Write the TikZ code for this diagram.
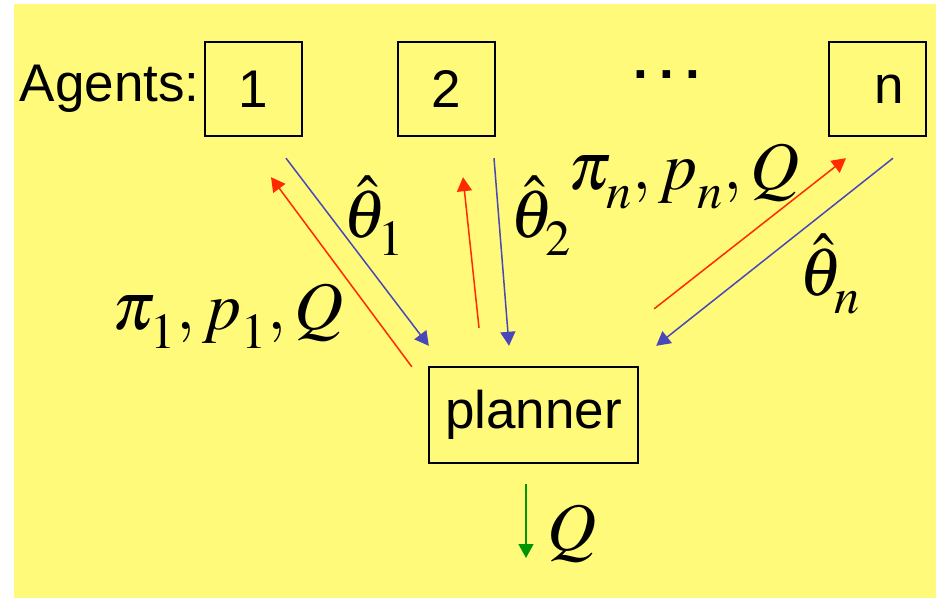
\documentclass[tikz,border=0pt]{standalone}
\usepackage{mathptmx}
\usepackage[no-math]{fontspec}
\setsansfont{Liberation Sans}
\usetikzlibrary{positioning, arrows.meta, calc}
\definecolor{slide}{HTML}{FFFA7A}
\definecolor{uplink}{HTML}{FF2A00}
\definecolor{downlink}{HTML}{4848B8}
\definecolor{outlink}{HTML}{009600}
\newcommand{\lowsub}[1]{\raisebox{-4pt}{$\scriptstyle #1$}}

\begin{document}
\begin{tikzpicture}[x=0.5pt, y=-0.5pt,
    agent/.style={draw, line width=1.2pt, minimum width=48.5pt, minimum height=47pt, inner sep=0pt, font=\sffamily\fontsize{26.5}{30}\selectfont},
    msg/.style={line width=0.75pt, -{Triangle[length=7pt, width=7.5pt]}},
    eq/.style={inner sep=0pt, font=\fontsize{34}{38}\selectfont}]
    \useasboundingbox (0,0) rectangle (936,598);
    \fill[white] (0,0) rectangle (936,598);
    \fill[slide] (14,4) rectangle (936,598);

    % agents and planner
    \node[font=\sffamily\fontsize{26.5}{30}\selectfont, anchor=east, inner sep=0pt] (lbl) at (200,89) {Agents:};
    \node[agent] (a1) at (253.5,89) {1};
    \node[agent] (a2) at (446.5,89) {2};
    \node[font=\sffamily\bfseries\fontsize{26.5}{30}\selectfont, inner sep=0pt] (dots) at (667,75) {.\hspace{5.5pt}.\hspace{5.5pt}.};
    \node[agent, text width=26.5pt, inner xsep=11pt, align=right] (an) at (877.5,89) {n};
    \node[agent, minimum width=104.5pt, minimum height=48pt] (pl) at (533.5,415) {planner};
    \coordinate (qout) at (526,558);

    % reports (blue) and answers (red)
    \draw[msg, downlink] ($(a1.south)+(32.5,21)$) -- ($(pl.north west)+(1,-20)$);
    \draw[msg, uplink] ($(pl.north west)+(-16,1)$) -- ($(a1.south)+(17.5,40)$);
    \draw[msg, uplink] ($(pl.north)+(-54.5,-38)$) -- ($(a2.south)+(16.5,40)$);
    \draw[msg, downlink] ($(a2.south)+(47.5,21)$) -- ($(pl.north)+(-24.5,-20)$);
    \draw[msg, uplink] ($(pl.north east)+(15,-57)$) -- ($(an.south)+(-31.5,21)$);
    \draw[msg, downlink] ($(an.south)+(15.5,21)$) -- ($(pl.north east)+(17,-20)$);
    \draw[msg, outlink] ($(pl.south)+(-7.5,20)$) -- (qout);

    % labels
    \node[eq] (t1) at (374,216) {$\hat{\theta}_{\lowsub{1}}$};
    \node[eq] (t2) at (541,216) {$\hat{\theta}_{\lowsub{2}}$};
    \node[eq] (tn) at (830,274) {$\hat{\theta}_{\lowsub{n}}$};
    \node[eq, anchor=base] (m1) at (228,330) {$\pi_{\lowsub{1}}{,}\,p_{\lowsub{1}}{,}\,Q$};
    \node[eq, anchor=base] (mn) at (684,190) {$\pi_{\lowsub{n}}{,}\,p_{\lowsub{n}}{,}\,Q$};
    \node[eq, anchor=base] (q) at (572,550) {$Q$};
\end{tikzpicture}
\end{document}
